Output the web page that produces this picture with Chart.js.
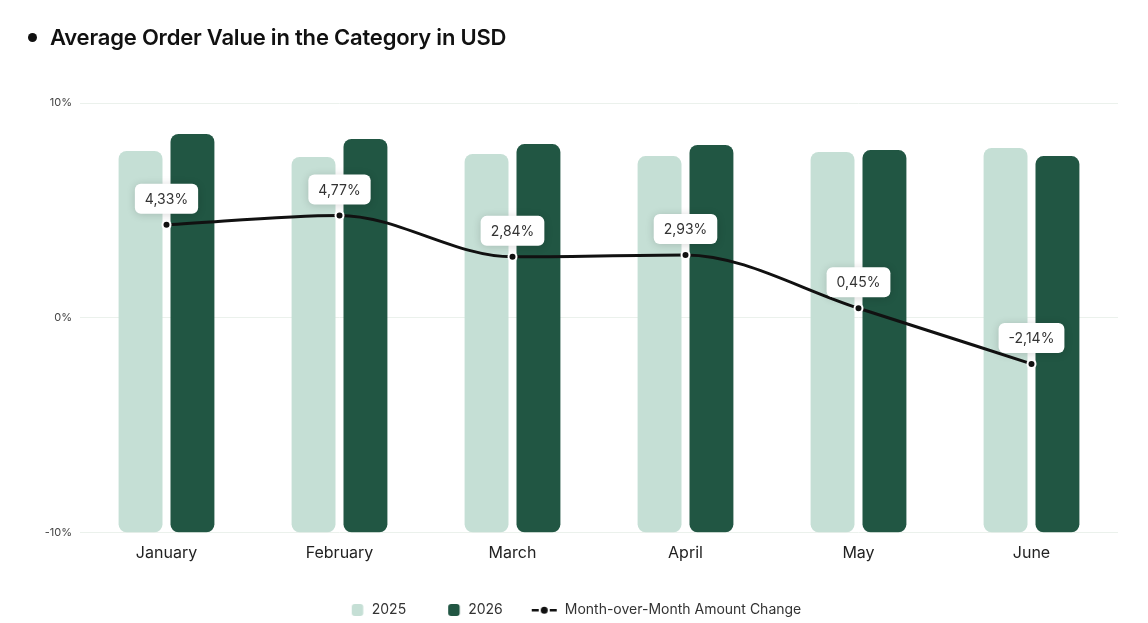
<!DOCTYPE html>
<html>
<head>
<meta charset="utf-8">
<script src="https://cdn.jsdelivr.net/npm/chart.js@4/dist/chart.umd.min.js"></script>
<style>
  body { margin: 0; background: #fff; font-family: Inter, sans-serif; }
  #wrap { position: relative; width: 1148px; height: 623px; }
  #title { position: absolute; left: 28px; top: 24px; margin: 0; font-size: 22px; font-weight: 600; color: #111; letter-spacing: -0.2px; }
  #title span { display: inline-block; width: 9px; height: 9px; border-radius: 50%; background: #111; margin-right: 13px; vertical-align: middle; position: relative; top: -2px; }
</style>
</head>
<body>
<div id="wrap">
  <h2 id="title"><span></span>Average Order Value in the Category in USD</h2>
  <canvas id="chart"></canvas>
</div>
<script>
document.addEventListener("DOMContentLoaded", function () {

    let months = ["January", "February", "March", "April", "May", "June"];
    let aov2025 = [7.77, 7.49, 7.63, 7.53, 7.72, 7.91];
    let aov2026 = [8.56, 8.33, 8.09, 8.05, 7.81, 7.53];
    let momChange = [4.33, 4.77, 2.84, 2.93, 0.45, -2.14];
    let yTicks = [-10, 0, 10];

    let color2025 = "#c5dfd5";
    let color2026 = "#215643";

    function fmt(v) {
        return v.toFixed(2).replace(".", ",") + "%";
    }

    // legend icons, drawn on small canvases so the gap before the text can be set
    function boxIcon(color) {
        let c = document.createElement("canvas");
        c.width = 40;
        c.height = 12;
        let g = c.getContext("2d");
        g.fillStyle = color;
        g.beginPath();
        g.roundRect(16, 0, 11.5, 12, 3);
        g.fill();
        return c;
    }

    let lineIcon = document.createElement("canvas");
    lineIcon.width = 40;
    lineIcon.height = 10;
    let ic = lineIcon.getContext("2d");
    ic.fillStyle = "#111";
    ic.fillRect(3, 4, 7, 2.5);
    ic.fillRect(21, 4, 7, 2.5);
    ic.beginPath();
    ic.arc(15.5, 5.2, 3.5, 0, Math.PI * 2);
    ic.fill();

    let pointLabels = {
        id: "pointLabels",
        afterDatasetsDraw(chart) {
            let ctx = chart.ctx;
            let meta = chart.getDatasetMeta(2);
            meta.data.forEach(function (pt, i) {
                let text = fmt(momChange[i]);
                ctx.save();
                ctx.font = "400 14px Inter";
                let w = ctx.measureText(text).width + 20;
                let h = 30;
                let x = pt.x - w / 2;
                let y = pt.y - 11 - h;
                ctx.shadowColor = "rgba(0,0,0,0.16)";
                ctx.shadowBlur = 8;
                ctx.shadowOffsetY = 1;
                ctx.fillStyle = "#fff";
                ctx.beginPath();
                ctx.roundRect(x, y, w, h, 6);
                ctx.fill();
                ctx.shadowColor = "transparent";
                ctx.fillStyle = "#333";
                ctx.textAlign = "center";
                ctx.textBaseline = "middle";
                ctx.fillText(text, pt.x, y + h / 2 + 1);
                ctx.restore();
            });
        }
    };

    let micanvas = document.getElementById("chart").getContext("2d");

    let chart = new Chart(micanvas, {
        type: "bar",
        data: {
            labels: months,
            datasets: [
                {
                    label: "2025",
                    data: aov2025,
                    base: -10,
                    backgroundColor: color2025,
                    borderRadius: 8,
                    borderSkipped: false,
                    categoryPercentage: 0.6,
                    barPercentage: 0.846,
                    order: 2
                },
                {
                    label: "2026",
                    data: aov2026,
                    base: -10,
                    backgroundColor: color2026,
                    borderRadius: 8,
                    borderSkipped: false,
                    categoryPercentage: 0.6,
                    barPercentage: 0.846,
                    order: 2
                },
                {
                    type: "line",
                    label: "Month-over-Month Amount Change",
                    data: momChange,
                    borderColor: "#111",
                    borderWidth: 3,
                    cubicInterpolationMode: "monotone",
                    pointRadius: 4,
                    pointBackgroundColor: "#111",
                    pointBorderColor: "#fff",
                    pointBorderWidth: 2,
                    order: 1
                }
            ]
        },
        options: {
            responsive: true,
            maintainAspectRatio: false,
            animation: false,
            layout: {
                padding: { top: 103, right: 30, bottom: -4, left: 30 }
            },
            scales: {
                x: {
                    grid: { display: false },
                    border: { display: false },
                    ticks: {
                        color: "#222",
                        font: { family: "Inter", size: 16 },
                        padding: 3
                    }
                },
                y: {
                    min: -10,
                    max: 10,
                    afterFit: function (scale) { scale.width = 50; },
                    afterBuildTicks: function (scale) {
                        scale.ticks = yTicks.map(function (v) { return { value: v }; });
                    },
                    grid: { color: "#ebf1ec", lineWidth: 1, drawTicks: false },
                    border: { display: false },
                    ticks: {
                        color: "#444",
                        font: { family: "Inter", size: 11 },
                        padding: 8,
                        callback: function (v) { return v + "%"; }
                    }
                }
            },
            plugins: {
                tooltip: { enabled: false },
                legend: {
                    display: true,
                    position: "bottom",
                    labels: {
                        usePointStyle: true,
                        pointStyleWidth: 18,
                        color: "#333",
                        font: { family: "Inter", size: 14 },
                        padding: 37,
                        generateLabels: function (ch) {
                            let icons = [boxIcon(color2025), boxIcon(color2026), lineIcon];
                            return ch.data.datasets.map(function (ds, i) {
                                return {
                                    text: ds.label,
                                    fillStyle: "#111",
                                    strokeStyle: "#111",
                                    lineWidth: 0,
                                    pointStyle: icons[i],
                                    datasetIndex: i,
                                    fontColor: "#333"
                                };
                            });
                        }
                    }
                }
            }
        },
        plugins: [pointLabels]
    });

});
</script>
</body>
</html>
